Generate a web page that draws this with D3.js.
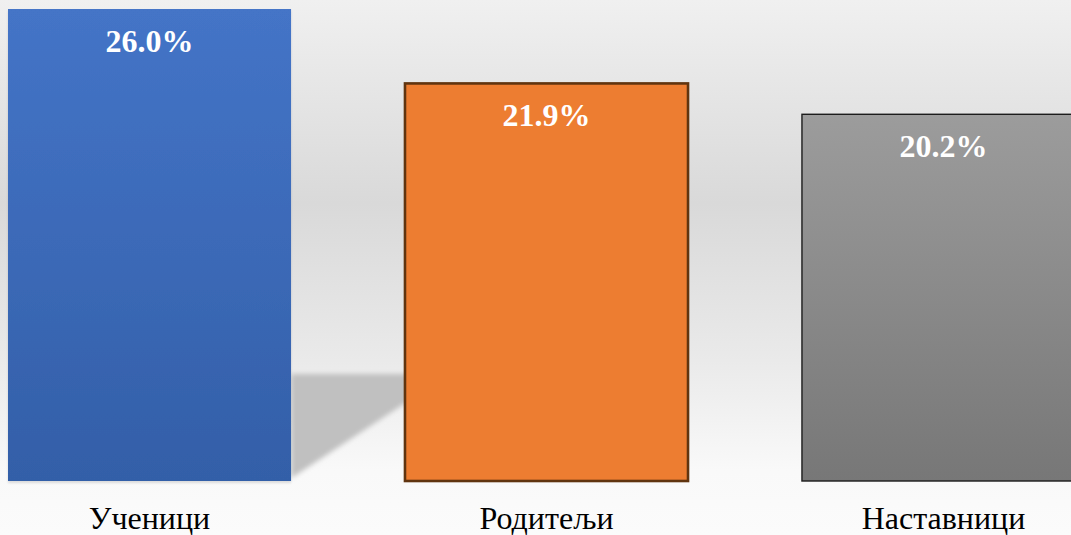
<!DOCTYPE html>
<html><head><meta charset="utf-8">
<script src="https://cdn.jsdelivr.net/npm/d3@7"></script>
<style>html,body{margin:0;padding:0;overflow:hidden;background:#fafafa}</style>
</head><body>
<svg id="c" width="1071" height="535"></svg>
<script>
const categories = ["Ученици", "Родитељи", "Наставници"];
const values = [26.0, 21.9, 20.2];
const valueLabels = ["26.0%", "21.9%", "20.2%"];

const W = 1071, H = 535;
const svg = d3.select("#c");
const defs = svg.append("defs");

const bg = defs.append("linearGradient").attr("id","bg").attr("x1",0).attr("y1",0).attr("x2",0).attr("y2",1);
[[0,"#f0f0f0"],[0.38,"#d9d9d9"],[0.66,"#e9e9e9"],[0.88,"#f9f9f9"],[1,"#fbfbfb"]].forEach(s=>bg.append("stop").attr("offset",s[0]).attr("stop-color",s[1]));

const fills = [
  {id:"gBlue", top:"#4474c7", bot:"#335fa8", stroke:"none", sw:0},
  {id:"gOrange", top:"#ed7d31", bot:"#ed7d31", stroke:"#60340f", sw:2.6},
  {id:"gGray", top:"#9c9c9c", bot:"#777777", stroke:"#1c1c1c", sw:1.4}
];
fills.forEach(f=>{
  const g = defs.append("linearGradient").attr("id",f.id).attr("x1",0).attr("y1",0).attr("x2",0).attr("y2",1);
  g.append("stop").attr("offset",0).attr("stop-color",f.top);
  g.append("stop").attr("offset",1).attr("stop-color",f.bot);
});
defs.append("filter").attr("id","blur").attr("x","-20%").attr("y","-20%").attr("width","140%").attr("height","140%")
  .append("feGaussianBlur").attr("stdDeviation",2.5);
const ds = defs.append("filter").attr("id","ds").attr("x","-5%").attr("y","-5%").attr("width","110%").attr("height","110%");
ds.append("feDropShadow").attr("dx",0).attr("dy",2).attr("stdDeviation",1.2).attr("flood-color","#000").attr("flood-opacity",0.12);

svg.append("rect").attr("width",W).attr("height",H).attr("fill","url(#bg)");

const x = d3.scaleBand().domain(categories).range([8, 1085]).paddingInner(0.287).paddingOuter(0);
const y = d3.scaleLinear().domain([0, 26]).range([481, 9]);

// perspective shadow cast by the first bar onto the floor
const x0 = x(categories[0]) + x.bandwidth();
const x1 = x(categories[1]) + 6;
const floorY = y(5.9);
svg.append("path")
  .attr("d", `M${x0},${floorY} L${x1},${floorY} L${x1},${y(4.5)} L${x0},${y(0.15)} Z`)
  .attr("fill","#c0c0c0").attr("filter","url(#blur)");

svg.selectAll("rect.bar").data(values).join("rect")
  .attr("class","bar")
  .attr("x",(d,i)=>x(categories[i]))
  .attr("y",d=>y(d))
  .attr("width",x.bandwidth())
  .attr("height",d=>y(0)-y(d))
  .attr("fill",(d,i)=>`url(#${fills[i].id})`)
  .attr("stroke",(d,i)=>fills[i].stroke)
  .attr("stroke-width",(d,i)=>fills[i].sw)
  .attr("filter",(d,i)=>i===0?"url(#ds)":null);

svg.selectAll("text.val").data(values).join("text")
  .attr("class","val")
  .attr("x",(d,i)=>x(categories[i])+x.bandwidth()/2)
  .attr("y",d=>y(d)+43)
  .attr("text-anchor","middle")
  .attr("font-family","'Liberation Serif','Times New Roman',serif")
  .attr("font-weight","bold")
  .attr("font-size",32)
  .attr("fill","#ffffff")
  .text((d,i)=>valueLabels[i]);

svg.selectAll("text.cat").data(categories).join("text")
  .attr("class","cat")
  .attr("x",d=>x(d)+x.bandwidth()/2)
  .attr("y",529)
  .attr("text-anchor","middle")
  .attr("font-family","'Liberation Serif','Times New Roman',serif")
  .attr("font-size",32)
  .attr("fill","#000000")
  .text(d=>d);
</script>
</body></html>
